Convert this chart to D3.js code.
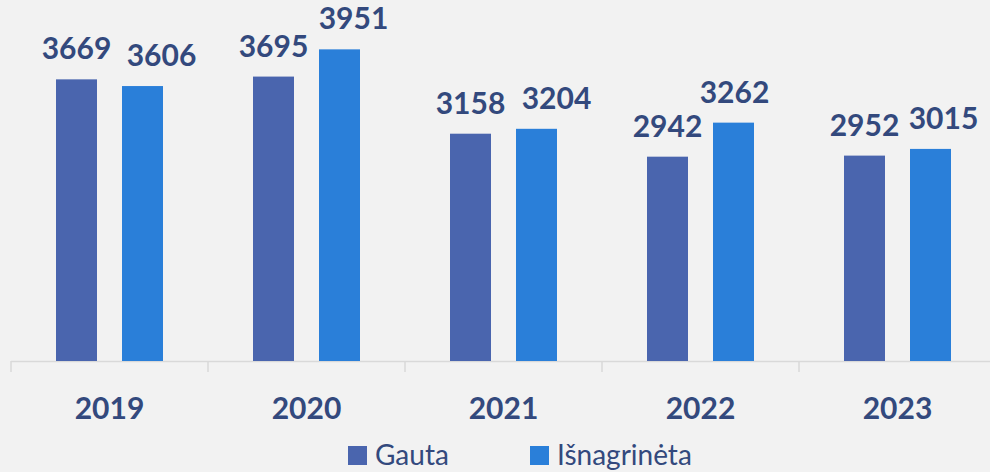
<!DOCTYPE html>
<html>
<head>
<meta charset="utf-8">
<script src="https://cdn.jsdelivr.net/npm/d3@7"></script>
<style>
  html, body { margin: 0; padding: 0; background: #f2f2f2; }
  svg { display: block; }
  text { font-family: Lato, "Open Sans", sans-serif; }
</style>
</head>
<body>
<svg id="chart" width="990" height="472"></svg>
<script>
const years = ["2019", "2020", "2021", "2022", "2023"];
const series = ["Gauta", "Išnagrinėta"];
const gauta = [3669, 3695, 3158, 2942, 2952];
const isnagrineta = [3606, 3951, 3204, 3262, 3015];

// small nudges the original applied to some value labels
const labelNudge = [[0, 19], [0, 14], [0, 20], [0, 1], [0, 13]];

const colors = ["#4a65ae", "#2a7fd9"];
const navy = "#33497d";

const width = 990, height = 472;
const baseY = 361;

const svg = d3.select("#chart");

const x0 = d3.scaleBand().domain(years).range([11, 996]);
const x1 = d3
  .scaleBand()
  .domain(series)
  .range([0, x0.bandwidth()])
  .paddingInner(0.379)
  .paddingOuter(0.682);
const y = d3.scaleLinear().domain([1021, 4415]).range([baseY, 0]);

const rows = years.map((yr, i) => ({
  year: yr,
  values: [gauta[i], isnagrineta[i]].map((v, j) => ({
    key: series[j],
    value: v,
    nudge: labelNudge[i][j]
  }))
}));

// axis line and boundary ticks
svg
  .append("line")
  .attr("x1", x0.range()[0])
  .attr("x2", width)
  .attr("y1", baseY + 0.5)
  .attr("y2", baseY + 0.5)
  .attr("stroke", "#d9d9d9")
  .attr("stroke-width", 1.5);

svg
  .selectAll("line.tick")
  .data(years.concat(["end"]))
  .enter()
  .append("line")
  .attr("class", "tick")
  .attr("x1", (d, i) => x0.range()[0] + i * x0.step())
  .attr("x2", (d, i) => x0.range()[0] + i * x0.step())
  .attr("y1", baseY)
  .attr("y2", baseY + 11)
  .attr("stroke", "#d9d9d9")
  .attr("stroke-width", 1.5);

const groups = svg
  .selectAll("g.year")
  .data(rows)
  .enter()
  .append("g")
  .attr("class", "year")
  .attr("transform", d => `translate(${x0(d.year)},0)`);

groups
  .selectAll("rect")
  .data(d => d.values)
  .enter()
  .append("rect")
  .attr("x", d => x1(d.key))
  .attr("y", d => y(d.value))
  .attr("width", x1.bandwidth())
  .attr("height", d => baseY - y(d.value))
  .attr("fill", (d, i) => colors[i]);

groups
  .selectAll("text.val")
  .data(d => d.values)
  .enter()
  .append("text")
  .attr("class", "val")
  .attr("x", d => x1(d.key) + x1.bandwidth() / 2 + d.nudge)
  .attr("y", d => y(d.value) - 20)
  .attr("text-anchor", "middle")
  .attr("font-size", 30)
  .attr("font-weight", 700)
  .attr("fill", navy)
  .text(d => d.value);

// category labels
const xAxis = d3.axisBottom(x0).tickSize(0).tickPadding(0);
const ax = svg
  .append("g")
  .attr("transform", `translate(0,${baseY})`)
  .call(xAxis);
ax.select(".domain").remove();
ax.selectAll("text")
  .attr("dy", null)
  .attr("y", 58)
  .attr("font-size", 30)
  .attr("font-weight", 700)
  .attr("fill", navy)
  .style("font-family", "Lato, sans-serif");

// legend
const legendX = [348, 530];
const legend = svg
  .selectAll("g.legend")
  .data(series)
  .enter()
  .append("g")
  .attr("class", "legend")
  .attr("transform", (d, i) => `translate(${legendX[i]},446)`);

legend
  .append("rect")
  .attr("width", 19)
  .attr("height", 19)
  .attr("fill", (d, i) => colors[i]);

legend
  .append("text")
  .attr("x", 27)
  .attr("y", 19)
  .attr("font-size", 28)
  .attr("fill", navy)
  .text(d => d);
</script>
</body>
</html>
